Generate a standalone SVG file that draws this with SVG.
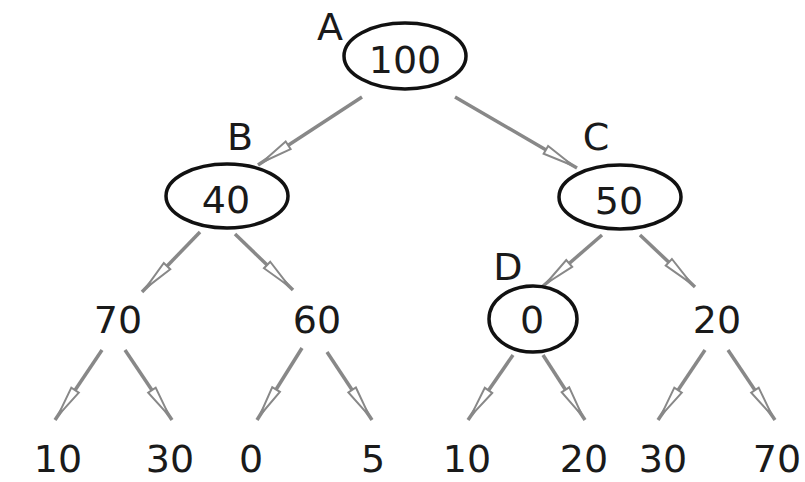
<svg xmlns="http://www.w3.org/2000/svg" width="805" height="482" viewBox="0 0 805 482">
<style>
  .t { font-family: "DejaVu Sans", Verdana, sans-serif; font-size: 38px; fill: #1a1a1a; text-anchor: middle; }
  .n { fill: #fff; stroke: #111; stroke-width: 3.5; }
  .e { stroke: #888; stroke-width: 3.5; fill: none; marker-end: url(#ah); }
</style>
<defs>
  <marker id="ah" markerUnits="userSpaceOnUse" markerWidth="44" markerHeight="16" refX="38" refY="7" orient="auto" overflow="visible">
    <path d="M2,2.5 L33,7 L2,11.5 Z" fill="#fff" stroke="#888" stroke-width="2"/>
  </marker>
</defs>
<rect width="805" height="482" fill="#fff"/>
<g id="connectors">
  <line class="e" x1="362" y1="97" x2="258" y2="165"/>
  <line class="e" x1="455" y1="97" x2="577" y2="168"/>
  <line class="e" x1="200" y1="232" x2="142" y2="292"/>
  <line class="e" x1="235" y1="234" x2="293" y2="290"/>
  <line class="e" x1="602" y1="235" x2="542" y2="287"/>
  <line class="e" x1="640" y1="235" x2="695" y2="287"/>
  <line class="e" x1="102" y1="350" x2="55" y2="420"/>
  <line class="e" x1="125" y1="350" x2="172" y2="420"/>
  <line class="e" x1="302" y1="348" x2="257" y2="420"/>
  <line class="e" x1="327" y1="352" x2="372" y2="420"/>
  <line class="e" x1="513" y1="355" x2="468" y2="420"/>
  <line class="e" x1="543" y1="355" x2="585" y2="420"/>
  <line class="e" x1="705" y1="350" x2="658" y2="420"/>
  <line class="e" x1="728" y1="350" x2="775" y2="420"/>
</g>
<g id="A">
  <ellipse class="n" cx="405" cy="56" rx="61" ry="33"/>
  <text class="t" x="405" y="73">100</text>
  <text class="t" x="330" y="40">A</text>
</g>
<g id="B">
  <ellipse class="n" cx="227" cy="196" rx="61" ry="32"/>
  <text class="t" x="226" y="213">40</text>
  <text class="t" x="240" y="150">B</text>
</g>
<g id="C">
  <ellipse class="n" cx="620" cy="197" rx="61" ry="32"/>
  <text class="t" x="619" y="214">50</text>
  <text class="t" x="596" y="150">C</text>
</g>
<g id="D">
  <ellipse class="n" cx="533" cy="319" rx="44" ry="33"/>
  <text class="t" x="532" y="333">0</text>
  <text class="t" x="508" y="280">D</text>
</g>
<g id="n70"><text class="t" x="118" y="333">70</text></g>
<g id="n60"><text class="t" x="317" y="333">60</text></g>
<g id="n20"><text class="t" x="717" y="333">20</text></g>
<g id="l10a"><text class="t" x="58" y="472">10</text></g>
<g id="l30a"><text class="t" x="170" y="472">30</text></g>
<g id="l0"><text class="t" x="251" y="472">0</text></g>
<g id="l5"><text class="t" x="373" y="472">5</text></g>
<g id="l10b"><text class="t" x="467" y="472">10</text></g>
<g id="l20"><text class="t" x="584" y="472">20</text></g>
<g id="l30b"><text class="t" x="663" y="472">30</text></g>
<g id="l70"><text class="t" x="777" y="472">70</text></g>
</svg>
